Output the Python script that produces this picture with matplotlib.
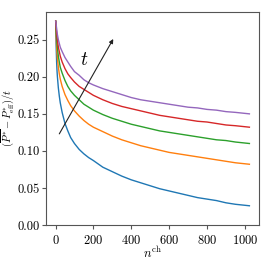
import numpy as np
import matplotlib
matplotlib.use("Agg")
import matplotlib.pyplot as plt

# Nastavenie fontov (Computer Modern)
plt.rcParams["font.family"] = "serif"
plt.rcParams["font.serif"] = ["cmr10", "DejaVu Serif"]
plt.rcParams["mathtext.fontset"] = "cm"
plt.rcParams["axes.formatter.use_mathtext"] = True
plt.rcParams["axes.unicode_minus"] = False
plt.rcParams["font.size"] = 9

# Data odčítané z grafu
n = [1, 2, 3, 4, 6, 8, 10, 15, 20, 25, 35, 50, 65, 80, 100, 125, 150, 175, 200, 250,
     300, 350, 400, 450, 500, 550, 600, 650, 700, 750, 800, 850, 900, 950, 1024]
v1 = [0.275, 0.258, 0.246, 0.236, 0.219, 0.208, 0.200, 0.185, 0.174, 0.165, 0.152, 0.137,
      0.127, 0.118, 0.110, 0.102, 0.096, 0.091, 0.087, 0.078, 0.072, 0.066, 0.061, 0.057,
      0.053, 0.049, 0.046, 0.043, 0.040, 0.037, 0.035, 0.033, 0.030, 0.028, 0.026]
v2 = [0.275, 0.267, 0.258, 0.250, 0.240, 0.232, 0.225, 0.213, 0.204, 0.197, 0.187, 0.176,
      0.168, 0.161, 0.154, 0.147, 0.141, 0.136, 0.132, 0.126, 0.120, 0.115, 0.111, 0.107,
      0.104, 0.101, 0.098, 0.096, 0.094, 0.092, 0.090, 0.088, 0.086, 0.084, 0.082]
v3 = [0.275, 0.270, 0.264, 0.258, 0.251, 0.245, 0.239, 0.228, 0.220, 0.213, 0.205, 0.195,
      0.187, 0.181, 0.175, 0.169, 0.163, 0.159, 0.155, 0.149, 0.144, 0.140, 0.136, 0.133,
      0.130, 0.127, 0.125, 0.123, 0.121, 0.119, 0.117, 0.115, 0.114, 0.112, 0.110]
v4 = [0.275, 0.272, 0.268, 0.264, 0.259, 0.254, 0.249, 0.240, 0.234, 0.228, 0.220, 0.211,
      0.204, 0.199, 0.193, 0.187, 0.183, 0.179, 0.175, 0.169, 0.164, 0.160, 0.157, 0.154,
      0.151, 0.148, 0.146, 0.144, 0.142, 0.140, 0.139, 0.137, 0.135, 0.134, 0.132]
v5 = [0.275, 0.274, 0.272, 0.269, 0.265, 0.261, 0.257, 0.250, 0.245, 0.240, 0.234, 0.226,
      0.220, 0.214, 0.207, 0.202, 0.196, 0.192, 0.189, 0.184, 0.180, 0.176, 0.172, 0.169,
      0.167, 0.165, 0.163, 0.161, 0.159, 0.158, 0.156, 0.155, 0.153, 0.152, 0.150]
series = [v1, v2, v3, v4, v5]
colors = ["#1f77b4", "#ff7f0e", "#2ca02c", "#d62728", "#9467bd"]

# Šípka "t"
arrow_start = (20, 0.123)
arrow_end = (305, 0.251)
t_pos = (150, 0.222)

# Vykreslenie
fig = plt.figure(figsize=(2.66, 2.66), dpi=100)
ax = fig.add_axes([0.173, 0.154, 0.801, 0.801])
for v, c in zip(series, colors):
    ax.plot(n, v, color=c, lw=1.0)
ax.annotate("", xy=arrow_end, xytext=arrow_start,
            arrowprops=dict(arrowstyle="-|>", color="#222222", lw=0.8,
                            mutation_scale=6, shrinkA=0, shrinkB=0))
ax.text(t_pos[0], t_pos[1], "$t$", fontsize=14, ha="center", va="center")
ax.set_ylim(bottom=0.0)
ax.set_xticks([0, 200, 400, 600, 800, 1000])
ax.set_yticks([0.0, 0.05, 0.10, 0.15, 0.20, 0.25])
ax.set_yticklabels(["0.00", "0.05", "0.10", "0.15", "0.20", "0.25"])
ax.tick_params(axis="y", pad=1.5)
ax.set_xlabel(r"$n^{\rm ch}$", labelpad=-1)
ax.set_ylabel(r"$(\overline{P^{*}} - P^{*}_{\rm eff})/t$", fontsize=7.5)
ax.yaxis.set_label_coords(-0.14, 0.5)
for s in ax.spines.values():
    s.set_color("#555555")
    s.set_linewidth(0.8)
ax.tick_params(color="#555555", width=0.8, length=3)

fig.savefig("out.png", dpi=100)
